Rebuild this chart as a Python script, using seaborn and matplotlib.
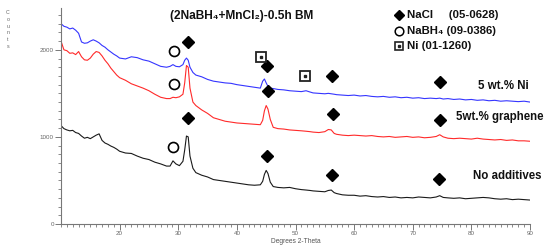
import numpy as np
import pandas as pd
import matplotlib
matplotlib.use("Agg")
import matplotlib.pyplot as plt
import seaborn as sns
from matplotlib.ticker import MultipleLocator

# ---------------- data ----------------
two_theta = [10, 10.5, 11, 11.5, 12, 12.5, 13, 13.5, 14, 14.5, 15, 15.5, 16, 16.5, 17, 17.5,
             18, 18.5, 19, 19.5, 20, 21, 22, 23, 24, 25, 26, 27, 28, 28.6, 29.1, 29.6, 30.2,
             30.8, 31.1, 31.4, 31.7, 32.0, 32.5, 33, 34, 35, 36, 37, 38, 39, 40, 41, 42, 43,
             44, 44.4, 44.7, 45.0, 45.3, 45.7, 46.2, 47, 48, 49, 50, 51, 51.8, 52.5, 53, 54,
             55, 55.6, 56.1, 56.6, 57, 58, 59, 60, 61, 62, 63, 64, 65, 66, 67, 68, 69, 70,
             71, 72, 73, 74, 74.6, 75.2, 76, 77, 78, 79, 80, 81, 82, 83, 84, 85, 86, 87, 88,
             89, 90]

no_additives = [1130, 1095, 1080, 1070, 1075, 1050, 1040, 1010, 985, 995, 980, 1000, 1020, 1035,
                960, 930, 915, 895, 880, 860, 835, 815, 810, 780, 755, 740, 710, 690, 665, 665,
                725, 690, 670, 720, 850, 1010, 1000, 780, 640, 590, 560, 540, 510, 500, 490,
                480, 470, 460, 450, 445, 450, 490, 570, 615, 580, 480, 430, 420, 415, 420, 405,
                395, 390, 385, 380, 375, 370, 385, 390, 360, 350, 335, 330, 330,
                320, 325, 315, 310, 315, 305, 310, 300, 305, 300, 310, 305, 300, 310,
                325, 305,
                300, 295, 300, 290, 295, 300, 305, 300, 290, 285, 290, 280, 285, 280, 275]

graphene = [2100, 2000, 1990, 1960, 1965, 1945, 1980, 1920, 1885, 1880, 1905, 1950, 1980, 1970,
            1930, 1880, 1840, 1790, 1750, 1710, 1680, 1650, 1610, 1585, 1560, 1530, 1490, 1455,
            1440, 1440, 1455, 1450, 1460, 1490, 1620, 1820, 1800, 1560, 1400, 1360, 1310, 1270,
            1220, 1200, 1180, 1170, 1160, 1155, 1150, 1145, 1140, 1190, 1300, 1360, 1320, 1200,
            1110, 1095, 1090, 1080, 1075, 1070, 1065, 1060, 1055, 1050, 1060, 1085, 1080, 1040,
            1030, 1020, 1015, 1020,
            1015, 1010, 1015, 1005, 1000, 1005, 995, 1000, 1005, 995, 1000, 990, 995, 1005,
            1025, 1000,
            985, 980, 985, 980, 975, 985, 975, 970, 965, 970, 960, 965, 955, 955, 950]

nickel = [2300, 2270, 2260, 2240, 2250, 2225, 2190, 2090, 2075, 2080, 2100, 2115, 2100, 2080,
          2050, 2030, 2000, 1975, 1950, 1930, 1905, 1895, 1920, 1910, 1885, 1870, 1840, 1810,
          1800, 1810, 1830, 1810, 1805, 1830, 1880, 1905, 1880, 1800, 1740, 1710, 1690, 1660,
          1640, 1630, 1620, 1615, 1600, 1590, 1580, 1570, 1560, 1640, 1665, 1620, 1580, 1560,
          1555, 1545, 1540, 1530, 1525, 1520, 1530, 1515, 1505, 1500, 1495, 1500, 1495, 1490,
          1485, 1480, 1475, 1480,
          1470, 1475, 1465, 1460, 1465, 1455, 1460, 1450, 1455, 1445, 1450, 1440, 1445, 1440,
          1445, 1435,
          1440, 1430, 1435, 1425, 1430, 1420, 1425, 1415, 1420, 1410, 1415, 1410, 1405, 1410, 1400]

series_names = ["5 wt.% Ni", "5wt.% graphene", "No additives"]
series_colors = ["#3535ff", "#ff2a2a", "#1a1a1a"]

# reference-pattern marker positions (2theta, counts)
nacl_x = [31.6, 31.6, 45.1, 45.3, 45.2, 56.2, 56.4, 56.2, 74.6, 74.6, 74.5]
nacl_y = [2084, 1215, 1816, 1532, 782, 1701, 1261, 563, 1636, 1195, 517]
nabh4_x = [29.2, 29.2, 29.1]
nabh4_y = [1989, 1606, 889]
ni_x = [44.1, 51.7]
ni_y = [1916, 1701]

legend_labels = ["NaCl     (05-0628)", "NaBH\u2084 (09-0386)", "Ni (01-1260)"]
title_text = "(2NaBH\u2084+MnCl\u2082)-0.5h BM"

# ---------------- plot ----------------
sns.set_theme(style="white")
plt.rcParams["font.family"] = ["Liberation Sans", "DejaVu Sans"]

df = pd.concat([
    pd.DataFrame({"2theta": two_theta, "counts": vals, "sample": name})
    for name, vals in zip(series_names, [nickel, graphene, no_additives])
])

fig = plt.figure(figsize=(5.5, 2.48), dpi=100)
ax = fig.add_axes([61 / 550, 24 / 248, (530 - 61) / 550, (224 - 8) / 248])

sns.lineplot(data=df, x="2theta", y="counts", hue="sample", palette=series_colors,
             hue_order=series_names, linewidth=0.8, legend=False, ax=ax, sort=False,
             estimator=None)

ax.set_xlim(10, 90)
ax.set_ylim(0, 2480)

# markers
ax.plot(nacl_x, nacl_y, linestyle="none", marker="D", markersize=5.8, color="black",
        clip_on=False)
ax.plot(nabh4_x, nabh4_y, linestyle="none", marker="o", markersize=7.2,
        markerfacecolor="white", markeredgecolor="black", markeredgewidth=1.2, clip_on=False)
ax.plot(ni_x, ni_y, linestyle="none", marker="s", markersize=6.6,
        markerfacecolor="white", markeredgecolor="#222222", markeredgewidth=1.3, clip_on=False)
ax.plot(ni_x, ni_y, linestyle="none", marker="s", markersize=2, color="#222222",
        clip_on=False)

# axes styling
for side in ["top", "right"]:
    ax.spines[side].set_visible(False)
for side in ["left", "bottom"]:
    ax.spines[side].set_color("#777777")
    ax.spines[side].set_linewidth(0.8)

ax.xaxis.set_major_locator(MultipleLocator(10))
ax.xaxis.set_minor_locator(MultipleLocator(1))
ax.yaxis.set_major_locator(MultipleLocator(1000))
ax.yaxis.set_minor_locator(MultipleLocator(100))
ax.set_xticks([20, 30, 40, 50, 60, 70, 80, 90])
ax.tick_params(axis="both", which="major", direction="out", length=4, width=0.7,
               color="#777777", labelsize=4.5, labelcolor="#666666", pad=1.2)
ax.tick_params(axis="both", which="minor", direction="out", length=2, width=0.6,
               color="#777777")
ax.tick_params(axis="x", which="both", bottom=True)
ax.tick_params(axis="y", which="both", left=True)

ax.set_xlabel("Degrees 2-Theta", fontsize=4.8, color="#555555", labelpad=1)
ax.set_ylabel("")
fig.text(8 / 550, 1 - 10 / 248, "C\no\nu\nn\nt\ns", fontsize=3.8, color="#666666",
         ha="center", va="top", linespacing=1.45)

# title
fig.text(242 / 550, 1 - 16 / 248, title_text, fontsize=8.6, fontweight="bold",
         ha="center", va="center", color="#111111")

# legend (manual, figure coordinates)
leg_y = [15, 31, 46]
mk_x = 399
for i, (lab, yy) in enumerate(zip(legend_labels, leg_y)):
    fx, fy = mk_x / 550, 1 - yy / 248
    if i == 0:
        fig.lines.append(plt.Line2D([fx], [fy], marker="D", markersize=5.2, color="black",
                                    linestyle="none", transform=fig.transFigure))
    elif i == 1:
        fig.lines.append(plt.Line2D([fx], [fy], marker="o", markersize=6.2,
                                    markerfacecolor="white", markeredgecolor="black",
                                    markeredgewidth=1.1, linestyle="none",
                                    transform=fig.transFigure))
    else:
        fig.lines.append(plt.Line2D([fx], [fy], marker="s", markersize=6.0,
                                    markerfacecolor="white", markeredgecolor="#222222",
                                    markeredgewidth=1.2, linestyle="none",
                                    transform=fig.transFigure))
        fig.lines.append(plt.Line2D([fx], [fy], marker="s", markersize=1.8, color="#222222",
                                    linestyle="none", transform=fig.transFigure))
    fig.text(407 / 550, fy, lab, fontsize=8.2, fontweight="bold", ha="left", va="center",
             color="#111111")

# series labels
fig.text(478 / 550, 1 - 86 / 248, series_names[0], fontsize=8.3, fontweight="bold",
         ha="left", va="center", color="#111111")
fig.text(456 / 550, 1 - 117 / 248, series_names[1], fontsize=8.3, fontweight="bold",
         ha="left", va="center", color="#111111")
fig.text(473 / 550, 1 - 176 / 248, series_names[2], fontsize=8.3, fontweight="bold",
         ha="left", va="center", color="#111111")

fig.savefig("out.png", dpi=100, facecolor="white")
